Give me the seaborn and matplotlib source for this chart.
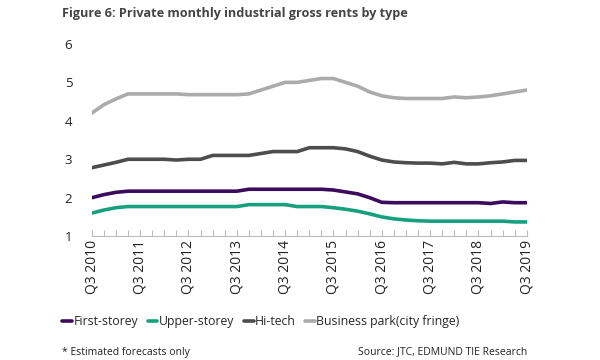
import pandas as pd
import numpy as np
import matplotlib
matplotlib.use("Agg")
import matplotlib.pyplot as plt
import seaborn as sns

# Quarterly rents, Q3 2010 .. Q3 2019 (37 quarters)
quarters = [f"Q{(2 + i) % 4 + 1} {2010 + (2 + i) // 4}" for i in range(37)]

first_storey = [2.00, 2.08, 2.14, 2.17, 2.17, 2.17, 2.17, 2.17, 2.17, 2.17,
                2.17, 2.17, 2.17, 2.22, 2.22, 2.22, 2.22, 2.22, 2.22, 2.22,
                2.20, 2.15, 2.10, 2.00, 1.88, 1.87, 1.87, 1.87, 1.87, 1.87,
                1.87, 1.87, 1.87, 1.85, 1.89, 1.87, 1.87]
upper_storey = [1.60, 1.68, 1.74, 1.77, 1.77, 1.77, 1.77, 1.77, 1.77, 1.77,
                1.77, 1.77, 1.77, 1.82, 1.82, 1.82, 1.82, 1.77, 1.77, 1.77,
                1.74, 1.70, 1.65, 1.58, 1.50, 1.45, 1.42, 1.40, 1.39, 1.39,
                1.39, 1.39, 1.39, 1.39, 1.39, 1.37, 1.37]
hi_tech = [2.78, 2.85, 2.92, 3.00, 3.00, 3.00, 3.00, 2.98, 3.00, 3.00,
           3.10, 3.10, 3.10, 3.10, 3.15, 3.20, 3.20, 3.20, 3.30, 3.30,
           3.30, 3.27, 3.20, 3.08, 2.98, 2.93, 2.91, 2.90, 2.90, 2.88,
           2.92, 2.88, 2.88, 2.91, 2.93, 2.97, 2.97]
business_park = [4.20, 4.42, 4.57, 4.70, 4.70, 4.70, 4.70, 4.70, 4.68, 4.68,
                 4.68, 4.68, 4.68, 4.70, 4.80, 4.90, 5.00, 5.00, 5.05, 5.10,
                 5.10, 5.00, 4.90, 4.75, 4.65, 4.60, 4.58, 4.58, 4.58, 4.58,
                 4.62, 4.60, 4.62, 4.65, 4.70, 4.75, 4.80]

series = {
    "First-storey": first_storey,
    "Upper-storey": upper_storey,
    "Hi-tech": hi_tech,
    "Business park(city fringe)": business_park,
}
colors = ["#3B0B5C", "#17A07E", "#4D4D4D", "#ABABAB"]

rows = []
for name, vals in series.items():
    for i, v in enumerate(vals):
        rows.append({"idx": i, "rent": v, "type": name})
df = pd.DataFrame(rows)

sns.set_theme(style="white")
plt.rcParams["font.family"] = ["Open Sans", "DejaVu Sans"]

fig = plt.figure(figsize=(6, 3.6), dpi=100)
ax = fig.add_axes([0.153, 0.344, 0.725, 0.534])

sns.lineplot(data=df, x="idx", y="rent", hue="type", palette=colors,
             linewidth=2.6, ax=ax, legend=False)

ax.set_xlim(0, len(quarters) - 1)
ax.set_ylim(1, 6)
ax.set_yticks([1, 2, 3, 4, 5, 6])
ax.set_xticks(range(0, len(quarters), 4))
ax.set_xticklabels([quarters[i] for i in range(0, len(quarters), 4)],
                   rotation=90, fontsize=10, color="#222222")
ax.set_xticks(range(len(quarters)), minor=True)
ax.tick_params(axis="x", which="both", direction="in", length=4,
               color="#BBBBBB", width=0.8, bottom=True, pad=3)
ax.tick_params(axis="y", length=0, labelsize=9.5, pad=14, colors="#222222")
ax.set_xlabel("")
ax.set_ylabel("")
for s in ["top", "right", "left"]:
    ax.spines[s].set_visible(False)
ax.spines["bottom"].set_color("#BBBBBB")
ax.spines["bottom"].set_linewidth(0.8)

fig.text(0.103, 0.962, "Figure 6: Private monthly industrial gross rents by type",
         fontsize=9.1, fontweight="bold", color="#444444", va="center")

handles = [plt.Line2D([], [], color=c, linewidth=2.6) for c in colors]
fig.legend(handles, list(series.keys()), loc="center", ncol=4,
           bbox_to_anchor=(0.435, 0.106), frameon=False, fontsize=8.8,
           handlelength=0.8, handletextpad=0.1, columnspacing=0.8)

fig.text(0.103, 0.022, "* Estimated forecasts only", fontsize=7.5,
         color="#222222", va="center")
fig.text(0.878, 0.022, "Source: JTC, EDMUND TIE Research", fontsize=7.5,
         color="#222222", va="center", ha="right")

fig.savefig("out.png", dpi=100)
